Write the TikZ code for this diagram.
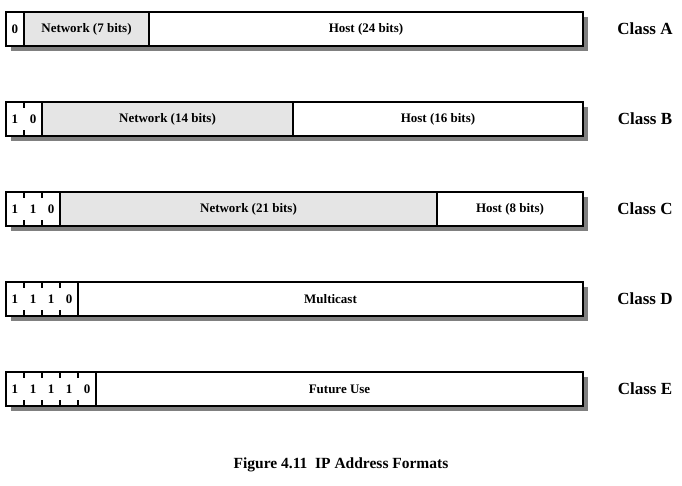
\documentclass[tikz,border=0pt]{standalone}
\usepackage{fontspec}
\setmainfont{Liberation Serif}
\usetikzlibrary{calc,positioning}
\tikzstyle{field} = [rectangle, minimum height=34pt, inner sep=0pt, outer sep=0pt, anchor=west, text centered, draw=black, line width=1.3pt, font=\fontsize{13}{15}\selectfont\bfseries]
\tikzstyle{netfield} = [field, fill=gray!20]
\tikzstyle{hostfield} = [field, fill=white]
\tikzstyle{bitdigit} = [inner sep=0pt, font=\fontsize{13}{15}\selectfont\bfseries]
\tikzstyle{classlabel} = [font=\fontsize{17}{20}\selectfont\bfseries]
\tikzstyle{captionlabel} = [font=\fontsize{15.5}{18}\selectfont\bfseries]
\tikzstyle{rowshadow} = [fill=black!50]
\tikzstyle{frame} = [draw=black, line width=2.4pt]
\tikzstyle{tick} = [draw=black, line width=1.1pt]

\begin{document}
\begin{tikzpicture}[x=1pt,y=1pt]
    \useasboundingbox (0,0) rectangle (682,486);

    % shadows behind every row
    \foreach \y in {457,367,277,187,97}
        \fill[rowshadow] (11,\y-22) rectangle (588,\y+12);

    % Class A
    \node (bitsA) [hostfield, minimum width=18pt] at (6,457) {0};
    \node (netA) [netfield, minimum width=125pt] at (bitsA.east) {Network (7 bits)};
    \node (hostA) [hostfield, minimum width=434pt] at (netA.east) {Host (24 bits)};
    \node (classA) [classlabel] at (645,457) {Class A};

    % Class B
    \node (bitsB) [hostfield, minimum width=36pt] at (6,367) {};
    \node (netB) [netfield, minimum width=251pt] at (bitsB.east) {Network (14 bits)};
    \node (hostB) [hostfield, minimum width=290pt] at (netB.east) {Host (16 bits)};
    \node (classB) [classlabel] at (645,367) {Class B};

    % Class C
    \node (bitsC) [hostfield, minimum width=54pt] at (6,277) {};
    \node (netC) [netfield, minimum width=377pt] at (bitsC.east) {Network (21 bits)};
    \node (hostC) [hostfield, minimum width=146pt] at (netC.east) {Host (8 bits)};
    \node (classC) [classlabel] at (645,277) {Class C};

    % Class D
    \node (bitsD) [hostfield, minimum width=72pt] at (6,187) {};
    \node (multiD) [hostfield, minimum width=505pt] at (bitsD.east) {Multicast};
    \node (classD) [classlabel] at (645,187) {Class D};

    % Class E
    \node (bitsE) [hostfield, minimum width=90pt] at (6,97) {};
    \node (futureE) [hostfield, minimum width=487pt] at (bitsE.east) {Future Use};
    \node (classE) [classlabel] at (645,97) {Class E};

    % leading bits
    \foreach \r/\d in {B/{1,0}, C/{1,1,0}, D/{1,1,1,0}, E/{1,1,1,1,0}} {
        \foreach \b [count=\k from 0] in \d
            \node (d\r\k) [bitdigit] at ($(bits\r.west)+(9+18*\k,0)$) {\b};
    }

    % ticks between the leading bits
    \foreach \r/\n in {B/1, C/2, D/3, E/4} {
        \foreach \k in {1,...,\n} {
            \draw[tick] ($(bits\r.north west)+(18*\k,0)$) -- ++(0,-6);
            \draw[tick] ($(bits\r.south west)+(18*\k,0)$) -- ++(0,6);
        }
    }

    % outer frames
    \draw[frame] (bitsA.north west) rectangle (hostA.south east);
    \draw[frame] (bitsB.north west) rectangle (hostB.south east);
    \draw[frame] (bitsC.north west) rectangle (hostC.south east);
    \draw[frame] (bitsD.north west) rectangle (multiD.south east);
    \draw[frame] (bitsE.north west) rectangle (futureE.south east);

    \node (caption) [captionlabel] at (341,21) {Figure 4.11\ \ IP Address Formats};
\end{tikzpicture}
\end{document}
